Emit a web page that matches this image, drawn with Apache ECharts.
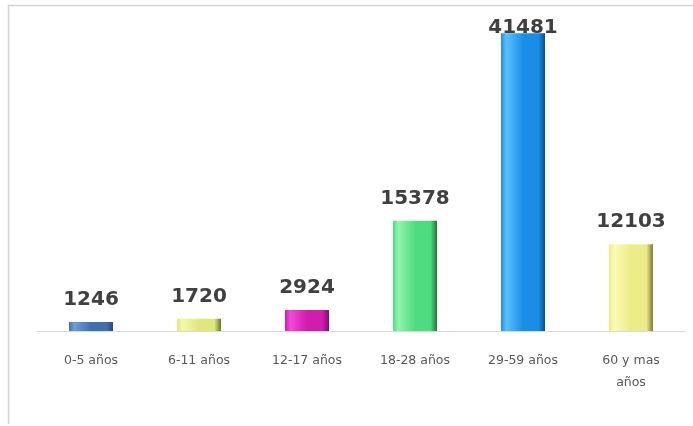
<!DOCTYPE html>
<html>
<head>
<meta charset="utf-8">
<script src="https://cdn.jsdelivr.net/npm/echarts@6/dist/echarts.min.js"></script>
<style>
html,body{margin:0;padding:0;background:#fff;}
#c{width:693px;height:426px;}
</style>
</head>
<body>
<div id="c"></div>
<script>
const categories = ['0-5 años', '6-11 años', '12-17 años', '18-28 años', '29-59 años', '60 y mas\naños'];
const values = [1246, 1720, 2924, 15378, 41481, 12103];
const barColors = [
  ['#6f9fd8', '#3f6fae', '#24497a'],
  ['#f4f8a8', '#dfe87a', '#6e7030'],
  ['#f24ad8', '#d01cb0', '#7a0f66'],
  ['#8ff5ae', '#4fdc80', '#23753f'],
  ['#5cc0ff', '#1a8ee6', '#0a4d8c'],
  ['#fbfbb4', '#ecec88', '#7a7a3c']
];

function grad(c) {
  return new echarts.graphic.LinearGradient(0, 0, 1, 0, [
    {offset: 0, color: c[1]},
    {offset: 0.12, color: c[0]},
    {offset: 0.5, color: c[1]},
    {offset: 0.85, color: c[1]},
    {offset: 1, color: c[2]}
  ]);
}

const maxIdx = values.indexOf(Math.max(...values));

const chart = echarts.init(document.getElementById('c'), null, {renderer: 'canvas'});
chart.setOption({
  animation: false,
  backgroundColor: '#fff',
  graphic: [
    {type: 'line', shape: {x1: 8, y1: 5.5, x2: 693, y2: 5.5}, style: {stroke: '#d4d4d4', lineWidth: 1.5}},
    {type: 'line', shape: {x1: 8.5, y1: 5, x2: 8.5, y2: 424}, style: {stroke: '#d4d4d4', lineWidth: 1.5}}
  ],
  grid: {left: 37, right: 8, top: 26, bottom: 95},
  xAxis: {
    type: 'category',
    data: categories,
    axisLine: {lineStyle: {color: '#d9d9d9', width: 1}},
    axisTick: {show: false},
    axisLabel: {color: '#595959', fontSize: 12.5, fontFamily: 'DejaVu Sans', margin: 19, lineHeight: 22, interval: 0}
  },
  yAxis: {
    type: 'value',
    min: 0,
    max: 42500,
    show: false,
    splitLine: {show: false}
  },
  series: [{
    type: 'bar',
    barWidth: 44,
    data: values.map((v, i) => ({
      value: v,
      itemStyle: {color: grad(barColors[i])},
      label: i === maxIdx ? {distance: -4} : undefined
    })),
    label: {
      show: true,
      position: 'top',
      distance: 12,
      color: '#404040',
      fontSize: 20,
      fontWeight: 'bold',
      fontFamily: 'DejaVu Sans'
    }
  }]
});
</script>
</body>
</html>
